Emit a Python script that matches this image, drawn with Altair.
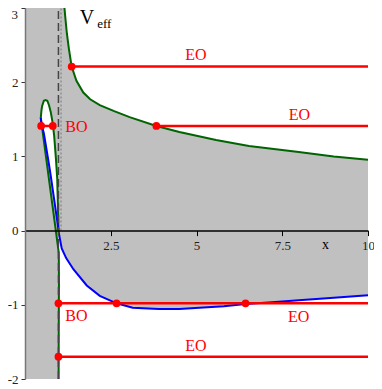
import altair as alt
import pandas as pd

# ---- curves ----
# blue curve (lower potential), from the loop tip down and out to x = 10
blue_x = [0.46, 0.48, 0.5, 0.55, 0.6, 0.65, 0.7, 0.75, 0.8, 0.85, 0.9, 0.94, 0.975,
          1.0, 1.07, 1.2, 1.41, 1.8, 2.18, 2.67, 3.14, 3.9, 4.5, 5.08, 5.8, 6.43,
          7.2, 7.98, 9.0, 10.0]
blue_y = [1.52, 1.44, 1.40, 1.31, 1.17, 1.03, 0.89, 0.74, 0.58, 0.42, 0.26, 0.13, 0.01,
          -0.07, -0.24, -0.37, -0.52, -0.74, -0.88, -0.98, -1.04, -1.055, -1.055, -1.04,
          -1.02, -0.99, -0.965, -0.94, -0.905, -0.87]

# green curve, small loop branch (upper edge of loop) then plunging branch
loop_x = [0.46, 0.48, 0.5, 0.55, 0.6, 0.65, 0.7, 0.75, 0.8, 0.85, 0.9, 0.94, 0.975]
loop_lo = [1.52, 1.44, 1.40, 1.31, 1.17, 1.03, 0.89, 0.74, 0.58, 0.42, 0.26, 0.13, 0.01]
loop_hi = [1.52, 1.62, 1.68, 1.75, 1.76, 1.75, 1.69, 1.60, 1.47, 1.28, 0.98, 0.70, 0.01]
plunge_x = [0.985, 0.99, 0.985, 0.982, 0.98]
plunge_y = [-0.3, -0.7, -1.2, -1.6, -2.0]

# green curve, upper branch
gup_x = [1.15, 1.18, 1.22, 1.28, 1.36, 1.5, 1.7, 1.9, 2.18, 2.6, 3.05, 3.83, 4.5,
         5.57, 6.53, 7.98, 9.0, 10.0]
gup_y = [3.0, 2.85, 2.66, 2.45, 2.21, 2.02, 1.86, 1.77, 1.69, 1.61, 1.53, 1.41, 1.33,
         1.22, 1.14, 1.06, 1.0, 0.955]

# orbit energy levels (red segments)
seg_y = [2.21, 1.41, 1.41, -0.98, -1.70]
seg_x1 = [1.36, 3.83, 0.47, 0.975, 0.975]
seg_x2 = [10.0, 10.0, 0.81, 10.0, 10.0]

# turning points (red dots)
dot_x = [1.36, 3.83, 0.47, 0.81, 0.975, 2.67, 6.43, 0.975]
dot_y = [2.21, 1.41, 1.41, 1.41, -0.98, -0.98, -0.98, -1.70]

# orbit labels
lab_text = ["EO", "EO", "BO", "BO", "EO", "EO"]
lab_x = [4.98, 8.0, 1.5, 1.5, 7.98, 4.98]
lab_y = [2.37, 1.56, 1.40, -1.15, -1.16, -1.56]

x_ticks = [2.5, 5, 7.5, 10]
y_ticks = [-2, -1, 0, 1, 2, 3]

horizon_x = 0.975
inner_x = 1.05

X_DOM = [0, 10]
Y_DOM = [-2, 3]
W, H = 343, 371
SERIF = "Liberation Serif"

xs = alt.Scale(domain=X_DOM, nice=False, zero=False)
ys = alt.Scale(domain=Y_DOM, nice=False, zero=False)

XAX = alt.Axis(values=x_ticks, format=".1~f", offset=-H * 2 / 5, grid=False,
               domainColor="black", domainWidth=1.5, tickColor="black",
               tickSize=5, labelFont=SERIF, labelFontSize=13,
               labelColor="#222", labelFlush=False, labelPadding=4,
               zindex=1)
YAX = alt.Axis(values=y_ticks, format="d", grid=False,
               domainColor="#777", domainWidth=1.5, tickColor="#333",
               tickSize=4, labelFont=SERIF, labelFontSize=13,
               labelColor="#222", labelPadding=3, zindex=1,
               labelExpr="datum.value == 3 ? '' : (datum.value < 0 ? '-' + abs(datum.value) : '' + datum.value)")


def X(f="x"):
    return alt.X(f"{f}:Q", scale=xs, axis=XAX, title=None)


def Y(f="y"):
    return alt.Y(f"{f}:Q", scale=ys, axis=YAX, title=None)


# background (forbidden region)
bg = alt.Chart(pd.DataFrame({"x": [X_DOM[0]], "x2": [X_DOM[1]],
                             "y": [Y_DOM[0]], "y2": [Y_DOM[1]]})).mark_rect(
    color="#c0c0c0").encode(x=X(), x2="x2:Q", y=Y(), y2="y2:Q")

# allowed regions (white)
df_up = pd.DataFrame({"x": gup_x, "y": gup_y, "top": [Y_DOM[1]] * len(gup_x)})
white_up = alt.Chart(df_up).mark_area(color="white", opacity=1).encode(
    x=X(), y=Y(), y2="top:Q")

low_x = [v for v in blue_x if v >= horizon_x]
low_y = [blue_y[i] for i, v in enumerate(blue_x) if v >= horizon_x]
df_low = pd.DataFrame({"x": low_x, "y": low_y, "bot": [Y_DOM[0]] * len(low_x)})
white_low = alt.Chart(df_low).mark_area(color="white", opacity=1).encode(
    x=X(), y=Y(), y2="bot:Q")

df_loop = pd.DataFrame({"x": loop_x, "y": loop_lo, "hi": loop_hi})
white_loop = alt.Chart(df_loop).mark_area(color="white", opacity=1).encode(
    x=X(), y=Y(), y2="hi:Q")

# dotted inner line
dotted = alt.Chart(pd.DataFrame({"x": [inner_x], "y": [0], "y2": [Y_DOM[1]]})).mark_rule(
    color="#888", strokeDash=[2, 2], strokeWidth=1.3).encode(x=X(), y=Y(), y2="y2:Q")

# green curves
g_x = loop_x[::-1] + plunge_x
g_y = loop_hi[::-1] + plunge_y
df_g = pd.DataFrame({"x": g_x, "y": g_y, "o": list(range(len(g_x)))})
green_loop = alt.Chart(df_g).mark_line(color="#006400", strokeWidth=2).encode(
    x=X(), y=Y(), order="o:Q")
green_up = alt.Chart(pd.DataFrame({"x": gup_x, "y": gup_y})).mark_line(
    color="#006400", strokeWidth=2, clip=True).encode(x=X(), y=Y())

# blue curve
blue = alt.Chart(pd.DataFrame({"x": blue_x, "y": blue_y})).mark_line(
    color="#0000ff", strokeWidth=2).encode(x=X(), y=Y())

# dashed horizon line
dashed = alt.Chart(pd.DataFrame({"x": [horizon_x], "y": [Y_DOM[0]], "y2": [Y_DOM[1]]})).mark_rule(
    color="#444", strokeDash=[8, 4], strokeWidth=1.5).encode(x=X(), y=Y(), y2="y2:Q")

# red energy levels
segs = alt.Chart(pd.DataFrame({"x": seg_x1, "x2": seg_x2, "y": seg_y})).mark_rule(
    color="#ff0000", strokeWidth=2.5).encode(x=X(), x2="x2:Q", y=Y())
dots = alt.Chart(pd.DataFrame({"x": dot_x, "y": dot_y})).mark_circle(
    color="#ff0000", size=60, opacity=1).encode(x=X(), y=Y())
labels = alt.Chart(pd.DataFrame({"x": lab_x, "y": lab_y, "t": lab_text})).mark_text(
    color="#ff0000", font=SERIF, fontSize=16).encode(x=X(), y=Y(), text="t:N")

# top y tick label (kept inside the drawing area)
top_lab = alt.Chart(pd.DataFrame({"x": [X_DOM[0]], "y": [Y_DOM[1]], "t": ["3"]})).mark_text(
    color="#222", font=SERIF, fontSize=13, align="right", baseline="top", dx=-7, dy=1
).encode(x=X(), y=Y(), text="t:N")

# V_eff and x annotations
veff = alt.Chart(pd.DataFrame({"x": [1.81], "y": [2.86], "t": ["V"]})).mark_text(
    color="black", font=SERIF, fontSize=20).encode(x=X(), y=Y(), text="t:N")
veff_sub = alt.Chart(pd.DataFrame({"x": [2.31], "y": [2.78], "t": ["eff"]})).mark_text(
    color="black", font=SERIF, fontSize=13).encode(x=X(), y=Y(), text="t:N")
xlab = alt.Chart(pd.DataFrame({"x": [8.76], "y": [-0.19], "t": ["x"]})).mark_text(
    color="black", font=SERIF, fontSize=14).encode(x=X(), y=Y(), text="t:N")

chart = alt.layer(
    bg, white_up, white_low, white_loop, dotted, green_loop, green_up, blue, dashed,
    segs, dots, labels, top_lab, veff, veff_sub, xlab
).properties(
    width=W, height=H,
    autosize=alt.AutoSizeParams(type="none"),
    padding={"left": 17, "top": 0, "right": 6, "bottom": 8},
).configure_view(stroke=None).configure_axis(labelFont=SERIF)

chart.save("out.html", embed_options={"renderer": "svg", "actions": False})
